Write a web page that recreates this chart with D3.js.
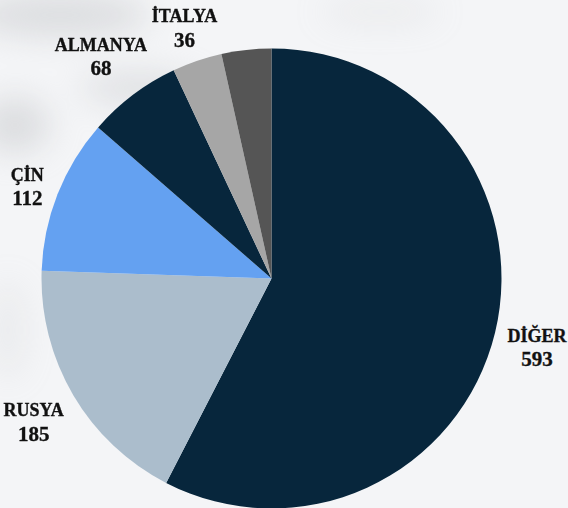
<!DOCTYPE html>
<html>
<head>
<meta charset="utf-8">
<script src="https://cdn.jsdelivr.net/npm/d3@7"></script>
<style>
  html, body { margin: 0; padding: 0; }
  body { width: 568px; height: 508px; overflow: hidden; background: #f4f5f7; }
  .lbl { font-family: "Liberation Serif", "DejaVu Serif", serif; font-weight: bold; fill: #111; stroke: #111; stroke-width: 0.35px; }
</style>
</head>
<body>
<div id="chart"></div>
<script>
"use strict";

// slices, clockwise from 12 o'clock
var names  = ["DİĞER", "RUSYA", "ÇİN", "ALMANYA", "İTALYA", ""];
var values = [593, 185, 112, 68, 36, 36];
var colors = ["#07263c", "#abbdcc", "#64a1f1", "#07263c", "#a6a6a6", "#555555"];

var width = 568,
    height = 508,
    radius = 230,
    center = [271.5, 278.5];

var svg = d3.select("#chart")
          .append("svg")
          .attr("width", width)
          .attr("height", height);

// marble-ish background
var defs = svg.append("defs");
var blur = defs.append("filter").attr("id", "blur")
    .attr("x", "-50%").attr("y", "-50%").attr("width", "200%").attr("height", "200%");
blur.append("feGaussianBlur").attr("stdDeviation", 16);

var bg = svg.append("g");
bg.append("rect").attr("width", width).attr("height", height).attr("fill", "#f4f5f7");
var blobs = bg.append("g").attr("filter", "url(#blur)").attr("fill", "#c4c6c9").attr("opacity", 0.5);
blobs.append("ellipse").attr("cx", 60).attr("cy", 15).attr("rx", 90).attr("ry", 22);
blobs.append("ellipse").attr("cx", 140).attr("cy", 88).attr("rx", 60).attr("ry", 14);
blobs.append("ellipse").attr("cx", 15).attr("cy", 125).attr("rx", 35).attr("ry", 28);
blobs.append("ellipse").attr("cx", 380).attr("cy", 12).attr("rx", 60).attr("ry", 10).attr("opacity", 0.5);
blobs.append("ellipse").attr("cx", 8).attr("cy", 330).attr("rx", 18).attr("ry", 50).attr("opacity", 0.4);

var data = names.map(function(n, i){ return {name: n, value: values[i], color: colors[i]}; });

var pie = d3.pie()
    .sort(null)
    .value(function(d){ return d.value; });

var arc = d3.arc()
    .innerRadius(0)
    .outerRadius(radius);

var arcs = pie(data);

var g = svg.append("g")
    .attr("transform", "translate(" + center[0] + "," + center[1] + ")");

g.selectAll("path")
    .data(arcs)
    .enter().append("path")
        .attr("d", arc)
        .attr("fill", function(d){ return d.data.color; });

// labels outside the pie, pushed out by their own box size
var base = 240;
var labels = g.selectAll("g.lbl")
    .data(arcs.filter(function(d){ return d.data.name !== ""; }))
    .enter().append("g")
        .attr("class", "lbl");

var txt = labels.append("text")
    .attr("text-anchor", "middle");
txt.append("tspan").attr("x", 0).attr("y", 0)
    .style("font-size", "18px")
    .text(function(d){ return d.data.name; });
txt.append("tspan").attr("x", 0).attr("y", 24.5)
    .style("font-size", "21px")
    .text(function(d){ return d.data.value; });

labels.each(function(d){
  var bb = this.getBBox();
  var a = (d.startAngle + d.endAngle) / 2;
  var sx = Math.sin(a), sy = -Math.cos(a);
  var h = bb.height - 7;
  var r = base + Math.abs(sx) * bb.width / 2 + Math.abs(sy) * h / 2;
  var cx = bb.x + bb.width / 2, cy = bb.y + bb.height / 2;
  d3.select(this).attr("transform",
    "translate(" + (sx * r - cx) + "," + (sy * r - cy + 5) + ")");
});
</script>
</body>
</html>
